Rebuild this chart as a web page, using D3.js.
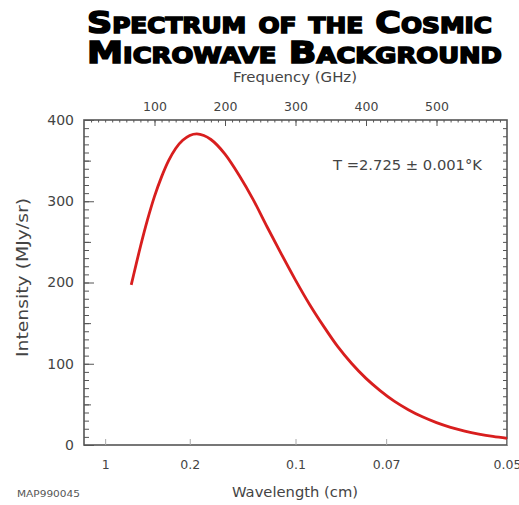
<!DOCTYPE html>
<html>
<head>
<meta charset="utf-8">
<script src="https://cdn.jsdelivr.net/npm/d3@7"></script>
<style>
  html, body { margin: 0; padding: 0; background: #fff; }
  svg { display: block; }
</style>
</head>
<body>
<svg id="chart" width="519" height="505"></svg>
<script>
// ---- data ----
const frequencyGHz = [67, 70, 80, 90, 100, 110, 120, 130, 140, 150, 160, 170, 180, 200, 220, 240, 260, 280, 300, 320, 340, 360, 380, 400, 420, 440, 460, 480, 500, 520, 540, 560, 580, 600];
const intensityMJy = [197, 208, 244, 277, 306, 330, 350, 365, 375, 381, 383, 381, 376, 358, 332, 302, 268, 235, 203, 173, 146, 121, 100, 82, 67, 54, 43.5, 34.7, 27.6, 21.8, 17.2, 13.5, 10.5, 8.2];
const freqTicks = [100, 200, 300, 400, 500];
const wavelengthTicks = [1, 0.2, 0.1, 0.07, 0.05];
const wavelengthLabels = ["1", "0.2", "0.1", "0.07", "0.05"];
const intensityTicks = [0, 100, 200, 300, 400];
const titleLines = ["Spectrum of the Cosmic", "Microwave Background"];
const annotation = "T =2.725 \u00B1 0.001\u00B0K";
const figureId = "MAP990045";

const svg = d3.select("#chart");
const L = 84, R = 507, T = 120, B = 445;
const x = d3.scaleLinear().domain([0, 600]).range([L, R]);
const y = d3.scaleLinear().domain([0, 400]).range([B, T]);
const axisColor = "#555";
const textColor = "#444";
const font = "'DejaVu Sans', Verdana, sans-serif";

// ---- title (one text, two lines) ----
const title = svg.append("text")
  .style("font-family", "'DejaVu Sans', sans-serif")
  .style("font-weight", "bold")
  .style("font-variant", "small-caps")
  .style("font-size", "31px")
  .attr("fill", "#000").attr("stroke", "#000").attr("stroke-width", 1.6);
titleLines.forEach((t, i) => {
  title.append("tspan")
    .attr("x", 87).attr("y", [33, 63][i])
    .attr("textLength", [405, 415][i])
    .attr("lengthAdjust", "spacingAndGlyphs")
    .text(t);
});

// ---- frame ----
svg.append("rect")
  .attr("x", L).attr("y", T).attr("width", R - L).attr("height", B - T)
  .attr("fill", "none").attr("stroke", axisColor).attr("stroke-width", 1.6);

function styleAxis(g) {
  g.select(".domain").remove();
  g.selectAll("line").attr("stroke", axisColor);
  g.selectAll("text").attr("fill", textColor).style("font-family", font);
}

// top frequency axis: minor ticks every 10, major at 100s
svg.append("g").attr("transform", `translate(0,${T})`)
  .call(d3.axisTop(x).tickValues(d3.range(10, 600, 10)).tickSize(-2.5).tickFormat(""))
  .call(styleAxis);
svg.append("g").attr("transform", `translate(0,${T})`)
  .call(d3.axisTop(x).tickValues(freqTicks).tickSize(-6).tickPadding(9).tickFormat(d3.format("d")))
  .call(styleAxis)
  .call(g => g.selectAll("text").style("font-size", "12.5px"));

// left intensity axis
svg.append("g").attr("transform", `translate(${L},0)`)
  .call(d3.axisLeft(y).tickValues(d3.range(10, 400, 10)).tickSize(-5).tickFormat(""))
  .call(styleAxis);
svg.append("g").attr("transform", `translate(${L},0)`)
  .call(d3.axisLeft(y).tickValues([50, 150, 250, 350]).tickSize(-7).tickFormat(""))
  .call(styleAxis);
svg.append("g").attr("transform", `translate(${L},0)`)
  .call(d3.axisLeft(y).tickValues(intensityTicks).tickSize(-10).tickPadding(10).tickFormat(d3.format("d")))
  .call(styleAxis)
  .call(g => g.selectAll("text").style("font-size", "14px"));

// right axis ticks
svg.append("g").attr("transform", `translate(${R},0)`)
  .call(d3.axisRight(y).tickValues(d3.range(10, 400, 10)).tickSize(-4).tickFormat(""))
  .call(styleAxis);

// bottom wavelength axis (positions via frequency = 30 GHz·cm / λ)
svg.append("g").attr("transform", `translate(0,${B})`)
  .call(d3.axisBottom(x).tickValues(wavelengthTicks.map(w => 30 / w)).tickSize(-6).tickPadding(15)
    .tickFormat((d, i) => wavelengthLabels[i]))
  .call(styleAxis)
  .call(g => {
    g.selectAll("line").attr("stroke", "#aaa");
    g.selectAll("text").style("font-size", "12.5px");
  });

// axis titles
svg.append("text").attr("x", 233).attr("y", 82).attr("textLength", 124).attr("lengthAdjust", "spacingAndGlyphs")
  .attr("fill", textColor).style("font-family", font).style("font-size", "14.5px")
  .text("Frequency (GHz)");
svg.append("text").attr("x", 232).attr("y", 497).attr("textLength", 126).attr("lengthAdjust", "spacingAndGlyphs")
  .attr("fill", textColor).style("font-family", font).style("font-size", "14.5px")
  .text("Wavelength (cm)");
svg.append("text").attr("transform", "translate(28,357) rotate(-90)")
  .attr("textLength", 159).attr("lengthAdjust", "spacingAndGlyphs")
  .attr("fill", textColor).style("font-family", font).style("font-size", "15px")
  .text("Intensity (MJy/sr)");

// annotation
svg.append("text").attr("x", 333).attr("y", 170).attr("textLength", 149).attr("lengthAdjust", "spacingAndGlyphs")
  .attr("fill", textColor).style("font-family", font).style("font-size", "14px")
  .text(annotation);

// figure id
svg.append("text").attr("x", 17).attr("y", 497).attr("textLength", 63).attr("lengthAdjust", "spacingAndGlyphs")
  .attr("fill", "#555").style("font-family", font).style("font-size", "8px")
  .text(figureId);

// ---- curve ----
const line = d3.line().x((d, i) => x(frequencyGHz[i])).y(d => y(d)).curve(d3.curveMonotoneX);
svg.append("path").datum(intensityMJy)
  .attr("d", line)
  .attr("fill", "none").attr("stroke", "#d81e1e").attr("stroke-width", 2.8)
  .attr("stroke-linejoin", "round");
</script>
</body>
</html>
